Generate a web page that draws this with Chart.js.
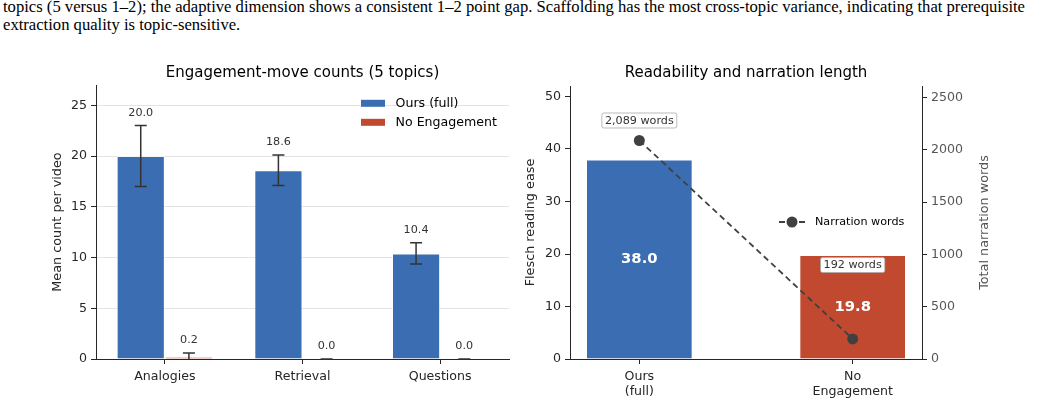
<!DOCTYPE html>
<html><head><meta charset="utf-8">
<script src="https://cdn.jsdelivr.net/npm/chart.js@4.4.1/dist/chart.umd.min.js"></script>
<style>
html,body{margin:0;padding:0;background:#fff;width:1041px;height:403px;overflow:hidden;position:relative}
#cap{position:absolute;left:3px;top:0;width:1100px;height:40px;font-family:"Liberation Serif",serif;font-size:17px;line-height:18px;color:#000;transform-origin:0 0}
.ln{position:absolute;left:0;white-space:nowrap}
#c1{position:absolute;left:0;top:40px}
#c2{position:absolute;left:515px;top:40px}
</style></head>
<body>
<div id="cap"><span class="ln" id="l1" style="top:-2px">topics (5 versus 1–2); the adaptive dimension shows a consistent 1–2 point gap. Scaffolding has the most cross-topic variance, indicating that prerequisite</span><span class="ln" id="l2" style="top:16px">extraction quality is topic-sensitive.</span></div>
<canvas id="c1" width="515" height="363"></canvas>
<canvas id="c2" width="526" height="363"></canvas>
<script>
// ---- data ----
const topics = ['Analogies', 'Retrieval', 'Questions'];
const seriesNames = ['Ours (full)', 'No Engagement'];
const oursMean = [20.0, 18.6, 10.4];
const oursErr = [3.0, 1.5, 1.05];
const noEngMean = [0.2, 0.0, 0.0];
const noEngErr = [0.4, 0.0, 0.0];
const leftTicks = [0, 5, 10, 15, 20, 25];
const conditions = [['Ours', '(full)'], ['No', 'Engagement']];
const flesch = [38.0, 19.8];
const words = [2089, 192];
const fleschTicks = [0, 10, 20, 30, 40, 50];
const wordTicks = [0, 500, 1000, 1500, 2000, 2500];

// ---- caption fit ----
(function(){
  const l1 = document.getElementById('l1');
  const w = l1.getBoundingClientRect().width;
  document.getElementById('cap').style.transform = 'scaleX(' + (1022 / w) + ')';
})();

const BLUE = '#3b6db3';
const RED = '#c0492f';
const AX = '#262626';
const FONT = "'DejaVu Sans', sans-serif";
const TICK = 12.6, LAB = 12.8, TTL = 15;
Chart.defaults.font.family = FONT;
Chart.defaults.color = AX;
Chart.defaults.animation = false;

// ---- chart 1 ----
const errs = [oursErr, noEngErr];
const plugin1 = {
  id: 'p1',
  afterDatasetsDraw(chart) {
    const ctx = chart.ctx, ys = chart.scales.y, ca = chart.chartArea;
    ctx.save();
    chart.data.datasets.forEach((ds, i) => {
      const meta = chart.getDatasetMeta(i);
      meta.data.forEach((bar, j) => {
        const m = ds.data[j], e = errs[i][j];
        const yt = ys.getPixelForValue(m + e);
        const lo = Math.max(m - e, 0);
        const yb = ys.getPixelForValue(lo);
        ctx.strokeStyle = '#333';
        ctx.lineWidth = 1.5;
        ctx.beginPath();
        ctx.moveTo(bar.x, yt); ctx.lineTo(bar.x, yb);
        ctx.moveTo(bar.x - 6, yt); ctx.lineTo(bar.x + 6, yt);
        if (m - e >= 0) { ctx.moveTo(bar.x - 6, yb); ctx.lineTo(bar.x + 6, yb); }
        ctx.stroke();
        ctx.fillStyle = '#333';
        ctx.font = '11.2px ' + FONT;
        ctx.textAlign = 'center';
        ctx.textBaseline = 'bottom';
        ctx.fillText(m.toFixed(1), bar.x, yt - 7);
      });
    });
    // legend (upper right)
    const lx = ca.right - 148, ly = ca.top + 18.3;
    chart.data.datasets.forEach((ds, i) => {
      const y = ly + i * 19;
      ctx.fillStyle = ds.backgroundColor;
      ctx.fillRect(lx, y - 3.5, 24, 7);
      ctx.fillStyle = '#000';
      ctx.font = TICK + 'px ' + FONT;
      ctx.textAlign = 'left';
      ctx.textBaseline = 'middle';
      ctx.fillText(ds.label, lx + 34.5, y);
    });
    ctx.restore();
  }
};

new Chart(document.getElementById('c1'), {
  type: 'bar',
  data: {
    labels: topics,
    datasets: [
      {label: seriesNames[0], data: oursMean, backgroundColor: BLUE, borderColor: 'rgba(255,255,255,0.6)', borderWidth: 1, borderSkipped: 'bottom'},
      {label: seriesNames[1], data: noEngMean, backgroundColor: RED, borderColor: 'rgba(255,255,255,0.6)', borderWidth: 1, borderSkipped: 'bottom'}
    ]
  },
  options: {
    responsive: false, animation: false,
    layout: {padding: {left: 0, right: 6, top: 0, bottom: 0}},
    datasets: {bar: {categoryPercentage: 0.7, barPercentage: 1.0}},
    plugins: {
      legend: {display: false}, tooltip: {enabled: false},
      title: {display: true, text: 'Engagement-move counts (5 topics)', fullSize: false, color: '#000',
              font: {size: TTL, weight: 'normal'}, padding: {top: 23.7, bottom: 3.3}}
    },
    scales: {
      x: {
        grid: {display: true, drawOnChartArea: false, offset: false, tickLength: 5, tickColor: AX},
        border: {display: true, color: AX, width: 1},
        ticks: {font: {size: TICK}, color: AX, padding: 5},
        afterFit(s) { s.height = 44; }
      },
      y: {
        min: 0, max: 27,
        afterBuildTicks(s) { s.ticks = leftTicks.map(v => ({value: v})); },
        grid: {color: '#e3e3e3', lineWidth: 1, tickLength: 5, tickColor: AX},
        border: {display: true, color: AX, width: 1},
        ticks: {font: {size: TICK}, color: AX, padding: 4},
        title: {display: true, text: 'Mean count per video', font: {size: LAB}, color: AX, padding: {top: 49.5, bottom: 0}},
        afterFit(s) { s.width = 96; }
      }
    }
  },
  plugins: [plugin1]
});

// ---- chart 2 ----
function boxLabel(ctx, text, cx, cy) {
  ctx.font = '11.2px ' + FONT;
  const w = ctx.measureText(text).width + 6, h = 15;
  ctx.fillStyle = '#fff';
  ctx.strokeStyle = '#aaa';
  ctx.lineWidth = 0.8;
  ctx.beginPath();
  ctx.roundRect(cx - w / 2, cy - h / 2, w, h, 2);
  ctx.fill(); ctx.stroke();
  ctx.fillStyle = '#333';
  ctx.textAlign = 'center';
  ctx.textBaseline = 'middle';
  ctx.fillText(text, cx, cy + 0.5);
}
const plugin2 = {
  id: 'p2',
  afterDatasetsDraw(chart) {
    const ctx = chart.ctx, ca = chart.chartArea, yL = chart.scales.y, yR = chart.scales.y1, xs = chart.scales.x;
    ctx.save();
    flesch.forEach((v, i) => {
      ctx.fillStyle = '#fff';
      ctx.font = 'bold 14.8px ' + FONT;
      ctx.textAlign = 'center';
      ctx.textBaseline = 'middle';
      ctx.fillText(v.toFixed(1), xs.getPixelForValue(i), yL.getPixelForValue(v / 2));
    });
    boxLabel(ctx, words[0].toLocaleString('en-US') + ' words', xs.getPixelForValue(0), yR.getPixelForValue(words[0]) - 20);
    boxLabel(ctx, words[1].toLocaleString('en-US') + ' words', xs.getPixelForValue(1), yL.getPixelForValue(flesch[1]) + 10);
    // legend (center right)
    const lx = ca.right - 143, ly = (ca.top + ca.bottom) / 2 - 0.5;
    ctx.strokeStyle = '#404040';
    ctx.lineWidth = 1.8;
    ctx.setLineDash([6, 4]);
    ctx.beginPath(); ctx.moveTo(lx, ly); ctx.lineTo(lx + 26, ly); ctx.stroke();
    ctx.setLineDash([]);
    ctx.fillStyle = '#404040';
    ctx.beginPath(); ctx.arc(lx + 13, ly, 5.5, 0, Math.PI * 2); ctx.fill();
    ctx.fillStyle = '#000';
    ctx.font = '11.2px ' + FONT;
    ctx.textAlign = 'left';
    ctx.textBaseline = 'middle';
    ctx.fillText(chart.data.datasets[0].label, lx + 36, ly);
    // right axis title
    ctx.save();
    ctx.translate(yR.right - 56, (ca.top + ca.bottom) / 2);
    ctx.rotate(-Math.PI / 2);
    ctx.fillStyle = '#555';
    ctx.font = LAB + 'px ' + FONT;
    ctx.textAlign = 'center';
    ctx.textBaseline = 'middle';
    ctx.fillText('Total narration words', 0, 0);
    ctx.restore();
    ctx.restore();
  }
};

new Chart(document.getElementById('c2'), {
  type: 'bar',
  data: {
    datasets: [
      {type: 'line', label: 'Narration words', yAxisID: 'y1', order: 0,
       data: words.map((w, i) => ({x: i, y: w})),
       borderColor: '#404040', borderWidth: 1.8, borderDash: [6, 4],
       pointRadius: 5.5, pointBackgroundColor: '#404040', pointBorderColor: '#404040', pointBorderWidth: 0, fill: false},
      {type: 'bar', label: 'Flesch reading ease', yAxisID: 'y', order: 1,
       data: flesch.map((v, i) => ({x: i, y: v})),
       backgroundColor: [BLUE, RED], borderColor: 'rgba(255,255,255,0.6)', borderWidth: 1, borderSkipped: 'bottom',
       categoryPercentage: 0.5, barPercentage: 1.0}
    ]
  },
  options: {
    responsive: false, animation: false,
    layout: {padding: 0},
    plugins: {
      legend: {display: false}, tooltip: {enabled: false},
      title: {display: true, text: 'Readability and narration length', fullSize: false, color: '#000',
              font: {size: TTL, weight: 'normal'}, padding: {top: 23.7, bottom: 4.3}}
    },
    scales: {
      x: {
        type: 'linear', min: -0.325, max: 1.325, offset: false,
        afterBuildTicks(s) { s.ticks = conditions.map((c, i) => ({value: i})); },
        grid: {display: true, drawOnChartArea: false, offset: false, tickLength: 5, tickColor: AX},
        border: {display: true, color: AX, width: 1},
        ticks: {font: {size: TICK}, color: AX, padding: 5.5, callback: (v) => conditions[v]},
        afterFit(s) { s.height = 44; }
      },
      y: {
        position: 'left', min: 0, max: 52,
        afterBuildTicks(s) { s.ticks = fleschTicks.map(v => ({value: v})); },
        grid: {drawOnChartArea: false, tickLength: 5, tickColor: AX},
        border: {display: true, color: AX, width: 1},
        ticks: {font: {size: TICK}, color: AX, padding: 4, callback: (v) => String(v)},
        title: {display: true, text: 'Flesch reading ease', font: {size: LAB}, color: AX, padding: {top: 7.5, bottom: 0}},
        afterFit(s) { s.width = 55; }
      },
      y1: {
        position: 'right', min: 0, max: 2610,
        afterBuildTicks(s) { s.ticks = wordTicks.map(v => ({value: v})); },
        grid: {drawOnChartArea: false, tickLength: 5, tickColor: AX},
        border: {display: true, color: AX, width: 1},
        ticks: {font: {size: TICK}, color: '#555', padding: 4, callback: (v) => String(v)},
        afterFit(s) { s.width = 119; }
      }
    }
  },
  plugins: [plugin2]
});
</script>
</body></html>
